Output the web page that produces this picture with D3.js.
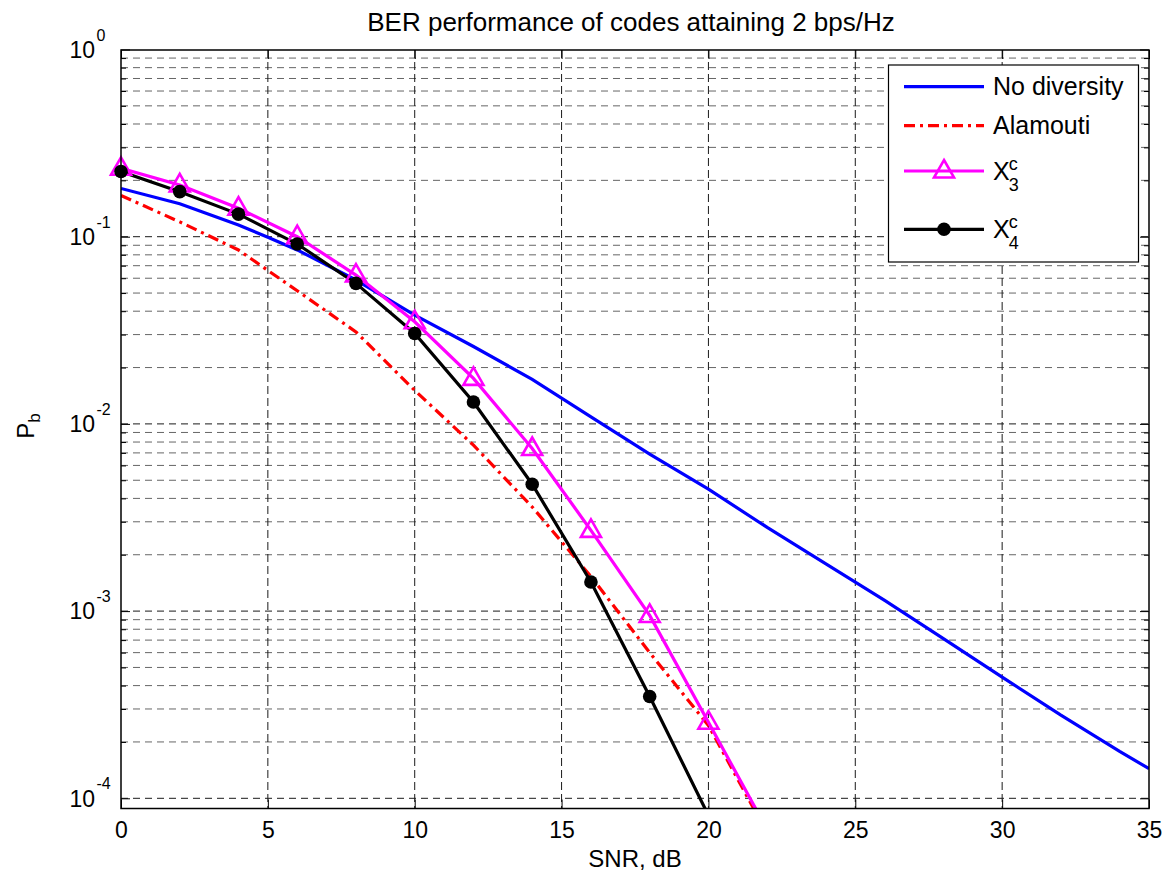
<!DOCTYPE html>
<html>
<head>
<meta charset="utf-8">
<script src="https://cdn.jsdelivr.net/npm/d3@7"></script>
<style>
    body { margin: 0; background: #fff; }
    svg text { font-family: Arial, "Liberation Sans", Helvetica, sans-serif; fill: #000; }
</style>
</head>
<body>
<div id="chart"></div>
<script>
// values
const chartTitle = "BER performance of codes attaining 2 bps/Hz";
const xTicks = [0, 5, 10, 15, 20, 25, 30, 35];
const yDecades = [-4, -3, -2, -1, 0];

const noDivSnr = [0, 2, 4, 5, 6, 8, 10, 12, 14, 16, 18, 20, 22, 24, 25, 26, 28, 30, 32, 34, 35];
const noDivBer = [0.181, 0.150, 0.1155, 0.0993, 0.085, 0.0587, 0.0381, 0.0259, 0.0173, 0.0109, 0.0069,
    0.00448, 0.0028, 0.00179, 0.00143, 0.00114, 0.000713, 0.000444, 0.000278, 0.000178, 0.000144];

const alamoutiSnr = [0, 2, 4, 6, 8, 10, 12, 14, 16, 18, 20, 22];
const alamoutiBer = [0.166, 0.12, 0.0849, 0.0514, 0.031, 0.0151, 0.0077, 0.0036, 0.00153, 0.0006, 0.000245, 0.000065];

const x3Snr = [0, 2, 4, 6, 8, 10, 12, 14, 16, 18, 20, 22];
const x3Ber = [0.232, 0.189, 0.142, 0.100, 0.0624, 0.0351, 0.0175, 0.00739, 0.0027, 0.000948, 0.000255, 0.000068];

const x4Snr = [0, 2, 4, 6, 8, 10, 12, 14, 16, 18, 20];
const x4Ber = [0.223, 0.174, 0.132, 0.0914, 0.0563, 0.0304, 0.0131, 0.00476, 0.00143, 0.00035, 0.000081];

class BerChart {
    constructor(parentElement) {
        this.parentElement = parentElement;
        this.initVis();
        this.updateVis();
    }

    initVis() {
        let vis = this;

        vis.plot = { left: 121, right: 1149, top: 50, bottom: 808.5 };

        vis.svg = d3.select("#" + vis.parentElement).append("svg")
            .attr("width", 1167)
            .attr("height", 877);

        vis.x = d3.scaleLinear().domain([0, 35]).range([vis.plot.left, vis.plot.right]);
        vis.y = d3.scaleLog().domain([1e-4, 1]).range([798.3, 49.5]);

        vis.svg.append("clipPath").attr("id", "plot-clip")
            .append("rect")
            .attr("x", vis.plot.left).attr("y", vis.plot.top)
            .attr("width", vis.plot.right - vis.plot.left)
            .attr("height", vis.plot.bottom - vis.plot.top);

        vis.gridLayer = vis.svg.append("g");
        vis.lineLayer = vis.svg.append("g").attr("clip-path", "url(#plot-clip)");
        vis.markerLayer = vis.svg.append("g");
        vis.axisLayer = vis.svg.append("g");
        vis.legendLayer = vis.svg.append("g");

        // title and axis labels
        vis.svg.append("text")
            .attr("x", 631)
            .attr("y", 31)
            .attr("text-anchor", "middle")
            .style("font-size", "26px")
            .text(chartTitle);

        vis.svg.append("text")
            .attr("x", (vis.plot.left + vis.plot.right) / 2)
            .attr("y", 867)
            .attr("text-anchor", "middle")
            .style("font-size", "24px")
            .text("SNR, dB");

        let yLab = vis.svg.append("text")
            .attr("transform", "translate(34,426) rotate(-90)")
            .attr("text-anchor", "middle")
            .style("font-size", "24px");
        yLab.append("tspan").text("P");
        yLab.append("tspan").attr("dy", 6).style("font-size", "17px").text("b");
    }

    updateVis() {
        let vis = this;
        let p = vis.plot;

        // minor y values 2..9 x 10^k
        let minorY = [];
        yDecades.slice(0, -1).forEach(k => {
            for (let m = 2; m <= 9; m++) minorY.push(m * Math.pow(10, k));
        });
        let majorY = yDecades.map(k => Math.pow(10, k));

        // grid
        vis.gridLayer.selectAll(".grid-minor")
            .data(minorY)
            .enter().append("line")
            .attr("class", "grid-minor")
            .attr("x1", p.left).attr("x2", p.right)
            .attr("y1", d => vis.y(d)).attr("y2", d => vis.y(d))
            .attr("stroke", "#666")
            .attr("stroke-width", 1)
            .attr("stroke-dasharray", "7,5");

        vis.gridLayer.selectAll(".grid-major")
            .data(majorY.slice(0, -1))
            .enter().append("line")
            .attr("class", "grid-major")
            .attr("x1", p.left).attr("x2", p.right)
            .attr("y1", d => vis.y(d)).attr("y2", d => vis.y(d))
            .attr("stroke", "#1a1a1a")
            .attr("stroke-width", 1)
            .attr("stroke-dasharray", "7,5");

        vis.gridLayer.selectAll(".grid-x")
            .data(xTicks.slice(1, -1))
            .enter().append("line")
            .attr("class", "grid-x")
            .attr("x1", d => vis.x(d)).attr("x2", d => vis.x(d))
            .attr("y1", p.top).attr("y2", p.bottom)
            .attr("stroke", "#1a1a1a")
            .attr("stroke-width", 1)
            .attr("stroke-dasharray", "8,4");

        // series
        let line = d3.line()
            .x(d => vis.x(d[0]))
            .y(d => vis.y(d[1]));

        let series = [
            { snr: noDivSnr, ber: noDivBer, color: "#0000ff", dash: null, marker: null },
            { snr: alamoutiSnr, ber: alamoutiBer, color: "#ff0000", dash: "11,5,3,5", marker: null },
            { snr: x3Snr, ber: x3Ber, color: "#ff00ff", dash: null, marker: "triangle" },
            { snr: x4Snr, ber: x4Ber, color: "#000000", dash: null, marker: "circle" }
        ];
        series.forEach(s => { s.pts = s.snr.map((v, i) => [v, s.ber[i]]); });

        let tri = "M0,-11L10,6.5L-10,6.5Z";
        let lowest = vis.y.invert(p.bottom);

        series.forEach(s => {
            vis.lineLayer.append("path")
                .datum(s.pts)
                .attr("d", line)
                .attr("fill", "none")
                .attr("stroke", s.color)
                .attr("stroke-width", 3.2)
                .attr("stroke-dasharray", s.dash);

            // markers are drawn unclipped, but only where the point sits inside the axes
            let shown = s.pts.filter(d => d[1] >= lowest);
            let g = vis.markerLayer.append("g");
            if (s.marker === "triangle") {
                g.selectAll("path")
                    .data(shown)
                    .enter().append("path")
                    .attr("d", tri)
                    .attr("transform", d => `translate(${vis.x(d[0])},${vis.y(d[1])})`)
                    .attr("fill", "none")
                    .attr("stroke", s.color)
                    .attr("stroke-width", 2.6);
            } else if (s.marker === "circle") {
                g.selectAll("circle")
                    .data(shown)
                    .enter().append("circle")
                    .attr("cx", d => vis.x(d[0]))
                    .attr("cy", d => vis.y(d[1]))
                    .attr("r", 6.8)
                    .attr("fill", s.color);
            }
        });

        // axes box and inward ticks
        vis.axisLayer.append("rect")
            .attr("x", p.left).attr("y", p.top)
            .attr("width", p.right - p.left).attr("height", p.bottom - p.top)
            .attr("fill", "none")
            .attr("stroke", "#000")
            .attr("stroke-width", 1.5);

        let xAxis = d3.axisBottom(vis.x).tickValues(xTicks).tickSize(-9).tickPadding(16).tickFormat(d3.format("d"));
        let gx = vis.axisLayer.append("g")
            .attr("transform", `translate(0,${p.bottom})`)
            .call(xAxis);
        gx.select(".domain").remove();
        gx.selectAll("text").style("font-size", "23px").attr("dy", "0.71em").attr("y", 13);

        let xTop = d3.axisTop(vis.x).tickValues(xTicks).tickSize(-9).tickFormat("");
        vis.axisLayer.append("g")
            .attr("transform", `translate(0,${p.top})`)
            .call(xTop)
            .select(".domain").remove();

        [p.left, p.right].forEach((xpos, i) => {
            let mk = i === 0 ? d3.axisLeft : d3.axisRight;
            let gMaj = vis.axisLayer.append("g")
                .attr("transform", `translate(${xpos},0)`)
                .call(mk(vis.y).tickValues(majorY).tickSize(-9).tickFormat(""));
            gMaj.select(".domain").remove();
            let gMin = vis.axisLayer.append("g")
                .attr("transform", `translate(${xpos},0)`)
                .call(mk(vis.y).tickValues(minorY).tickSize(-5).tickFormat(""));
            gMin.select(".domain").remove();
        });

        // y labels as 10^k
        let yl = vis.axisLayer.selectAll(".ylab")
            .data(yDecades)
            .enter().append("g")
            .attr("class", "ylab")
            .attr("transform", d => `translate(0,${vis.y(Math.pow(10, d))})`);
        yl.append("text")
            .attr("x", 95)
            .attr("y", 8.3)
            .attr("text-anchor", "end")
            .style("font-size", "23px")
            .text("10");
        yl.append("text")
            .attr("x", 96.5)
            .attr("y", -9)
            .style("font-size", "16px")
            .text(d => d === 0 ? "0" : "-" + Math.abs(d));

        vis.drawLegend(series);
    }

    drawLegend(series) {
        let vis = this;
        let box = { x: 888.5, y: 65, w: 250, h: 197 };
        let rowsY = [86.7, 125.7, 171, 229.3];
        let labels = [["No diversity"], ["Alamouti"], ["X", "3"], ["X", "4"]];

        vis.legendLayer.append("rect")
            .attr("x", box.x).attr("y", box.y)
            .attr("width", box.w).attr("height", box.h)
            .attr("fill", "#fff")
            .attr("stroke", "#000")
            .attr("stroke-width", 1.2);

        series.forEach((s, i) => {
            let ly = rowsY[i];
            vis.legendLayer.append("line")
                .attr("x1", 904).attr("x2", 984)
                .attr("y1", ly).attr("y2", ly)
                .attr("stroke", s.color)
                .attr("stroke-width", 3.2)
                .attr("stroke-dasharray", s.dash);
            if (s.marker === "triangle") {
                vis.legendLayer.append("path")
                    .attr("d", "M0,-11L10,6.5L-10,6.5Z")
                    .attr("transform", `translate(944,${ly})`)
                    .attr("fill", "none")
                    .attr("stroke", s.color)
                    .attr("stroke-width", 2.6);
            } else if (s.marker === "circle") {
                vis.legendLayer.append("circle")
                    .attr("cx", 944).attr("cy", ly).attr("r", 6.8)
                    .attr("fill", s.color);
            }

            let t = vis.legendLayer.append("text")
                .attr("x", 993)
                .attr("y", ly + 8.6)
                .style("font-size", "25px")
                .text(labels[i][0]);

            if (labels[i].length > 1) {
                let w = t.node().getComputedTextLength();
                vis.legendLayer.append("text")
                    .attr("x", 993 + w - 1)
                    .attr("y", ly - 1.5)
                    .style("font-size", "18px")
                    .text("c");
                vis.legendLayer.append("text")
                    .attr("x", 993 + w - 1)
                    .attr("y", ly + 19.5)
                    .style("font-size", "18px")
                    .text(labels[i][1]);
            }
        });
    }
}

new BerChart("chart");
</script>
</body>
</html>
